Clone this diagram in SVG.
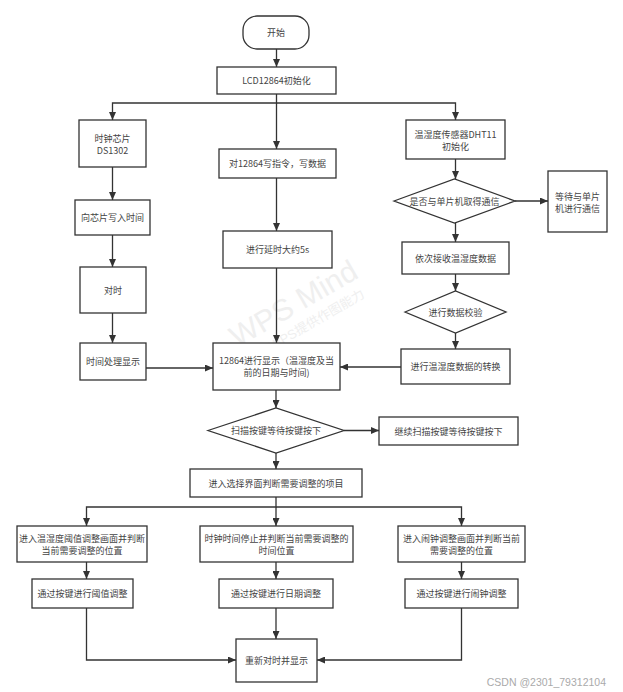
<svg xmlns="http://www.w3.org/2000/svg" width="623" height="692" viewBox="0 0 623 692">
<style>
.n rect,.n polygon{fill:#fff;stroke:#333;stroke-width:1.3}
.n text{font-family:"Noto Sans CJK SC","Liberation Sans",sans-serif;font-size:9px;fill:#444;text-anchor:middle;dominant-baseline:central}
.c path{fill:none;stroke:#333;stroke-width:1.3}
.wm{font-family:"Liberation Sans","Noto Sans CJK SC",sans-serif;fill:#efefef;text-anchor:middle}
</style>
<defs>
<marker id="a" viewBox="0 0 8 7" markerWidth="8" markerHeight="7" refX="8" refY="3.5" orient="auto" markerUnits="userSpaceOnUse"><path d="M0,0 L8,3.5 L0,7 Z" fill="#333"/></marker>
</defs>
<rect width="623" height="692" fill="#fff"/>
<g transform="rotate(-30 300 315)">
<text class="wm" x="300" y="312" font-size="30">WPS Mind</text>
<text class="wm" x="312" y="332" font-size="13">WPS提供作图能力</text>
</g>
<g class="c">
<path d="M276.5,49 V67" marker-end="url(#a)"/>
<path d="M276.5,94 V103 H112.5 V120" marker-end="url(#a)"/>
<path d="M276.5,103 H455.5 V120" marker-end="url(#a)"/>
<path d="M276.5,103 V149" marker-end="url(#a)"/>
<path d="M112.5,167 V200" marker-end="url(#a)"/>
<path d="M112.5,235 V267" marker-end="url(#a)"/>
<path d="M112.5,313 V343" marker-end="url(#a)"/>
<path d="M146,368 H213" marker-end="url(#a)"/>
<path d="M276.5,178 V231" marker-end="url(#a)"/>
<path d="M276.5,268 V343" marker-end="url(#a)"/>
<path d="M455.5,159 V179" marker-end="url(#a)"/>
<path d="M515,201 H548" marker-end="url(#a)"/>
<path d="M455.5,223 V242" marker-end="url(#a)"/>
<path d="M455.5,274 V291" marker-end="url(#a)"/>
<path d="M455.5,333 V349" marker-end="url(#a)"/>
<path d="M401,367 H340" marker-end="url(#a)"/>
<path d="M276,390 V408" marker-end="url(#a)"/>
<path d="M344,430.5 H379" marker-end="url(#a)"/>
<path d="M276,453 V469" marker-end="url(#a)"/>
<path d="M276,497 V507 H86.5 V526" marker-end="url(#a)"/>
<path d="M276,507 H461.5 V526" marker-end="url(#a)"/>
<path d="M276,507 V526" marker-end="url(#a)"/>
<path d="M86.5,562 V579" marker-end="url(#a)"/>
<path d="M276,562 V579" marker-end="url(#a)"/>
<path d="M461.5,562 V579" marker-end="url(#a)"/>
<path d="M86.5,608 V660 H236" marker-end="url(#a)"/>
<path d="M276,608 V639" marker-end="url(#a)"/>
<path d="M461.5,608 V660 H317" marker-end="url(#a)"/>
</g>
<g id="start" class="n"><rect x="243" y="16" width="66" height="33" rx="14"/><text x="276" y="32.5">开始</text></g>
<g id="lcd" class="n"><rect x="217" y="67" width="119" height="27"/><text x="276.5" y="80.5">LCD12864初始化</text></g>
<g id="clock" class="n"><rect x="79" y="120" width="67" height="47"/><text x="112.5" y="138">时钟芯片</text><text x="112.5" y="150">DS1302</text></g>
<g id="writetime" class="n"><rect x="75" y="200" width="75" height="35"/><text x="112.5" y="217.5">向芯片写入时间</text></g>
<g id="sync" class="n"><rect x="80" y="267" width="66" height="46"/><text x="113" y="290">对时</text></g>
<g id="timeshow" class="n"><rect x="80" y="343" width="66" height="37"/><text x="113" y="361.5">时间处理显示</text></g>
<g id="writecmd" class="n"><rect x="219" y="149" width="117" height="29"/><text x="277.5" y="163.5">对12864写指令，写数据</text></g>
<g id="delay" class="n"><rect x="223" y="231" width="109" height="37"/><text x="277.5" y="249.5">进行延时大约5s</text></g>
<g id="display" class="n"><rect x="213" y="343" width="127" height="47"/><text x="276.5" y="360.5">12864进行显示（温湿度及当</text><text x="276.5" y="372.5">前的日期与时间)</text></g>
<g id="dht" class="n"><rect x="406" y="120" width="99" height="39"/><text x="455.5" y="134">温湿度传感器DHT11</text><text x="455.5" y="146">初始化</text></g>
<g id="comm" class="n"><polygon points="394,201 454.5,179 515,201 454.5,223"/><text x="454.5" y="201">是否与单片机取得通信</text></g>
<g id="wait" class="n"><rect x="548" y="171" width="59" height="61"/><text x="577.5" y="196">等待与单片</text><text x="577.5" y="208">机进行通信</text></g>
<g id="recv" class="n"><rect x="402" y="242" width="107" height="32"/><text x="455.5" y="258">依次接收温湿度数据</text></g>
<g id="check" class="n"><polygon points="405,312 455.5,291 506,312 455.5,333"/><text x="455.5" y="312">进行数据校验</text></g>
<g id="convert" class="n"><rect x="401" y="349" width="109" height="35"/><text x="455.5" y="366.5">进行温湿度数据的转换</text></g>
<g id="scan" class="n"><polygon points="208,430.5 276,408 344,430.5 276,453"/><text x="276" y="430.5">扫描按键等待按键按下</text></g>
<g id="rescan" class="n"><rect x="379" y="417" width="139" height="28"/><text x="448.5" y="431">继续扫描按键等待按键按下</text></g>
<g id="select" class="n"><rect x="190" y="469" width="172" height="28"/><text x="276" y="483">进入选择界面判断需要调整的项目</text></g>
<g id="thr" class="n"><rect x="17" y="526" width="130" height="36"/><text x="82" y="538">进入温湿度阈值调整画面并判断</text><text x="82" y="550">当前需要调整的位置</text></g>
<g id="clk" class="n"><rect x="200" y="526" width="153" height="36"/><text x="276.5" y="538">时钟时间停止并判断当前需要调整的</text><text x="276.5" y="550">时间位置</text></g>
<g id="alarm" class="n"><rect x="398" y="526" width="127" height="36"/><text x="461.5" y="538">进入闹钟调整画面并判断当前</text><text x="461.5" y="550">需要调整的位置</text></g>
<g id="thradj" class="n"><rect x="32" y="579" width="101" height="29"/><text x="82.5" y="593.5">通过按键进行阈值调整</text></g>
<g id="dateadj" class="n"><rect x="219" y="579" width="114" height="29"/><text x="276" y="593.5">通过按键进行日期调整</text></g>
<g id="alarmadj" class="n"><rect x="405" y="579" width="113" height="29"/><text x="461.5" y="593.5">通过按键进行闹钟调整</text></g>
<g id="final" class="n"><rect x="236" y="639" width="81" height="43"/><text x="276.5" y="660.5">重新对时并显示</text></g>
<text x="606" y="686" font-family="Liberation Sans,sans-serif" font-size="10.5" fill="#aaa" text-anchor="end">CSDN @2301_79312104</text>
</svg>
